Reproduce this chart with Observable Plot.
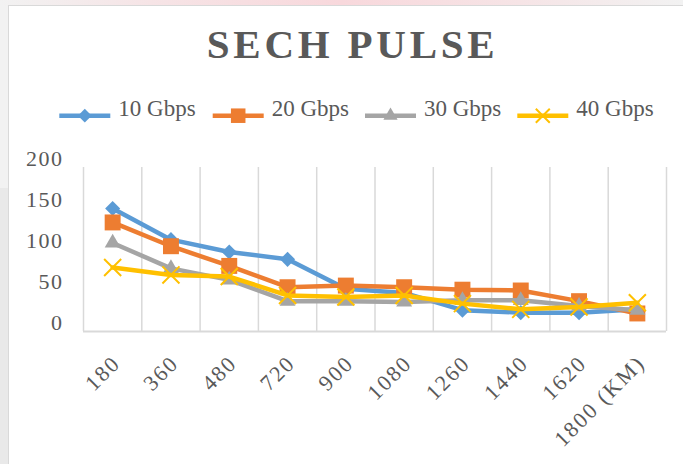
<!DOCTYPE html>
<html>
<head>
<meta charset="utf-8">
<script src="https://cdn.jsdelivr.net/npm/d3@7"></script>
<script src="https://cdn.jsdelivr.net/npm/@observablehq/plot@0.6"></script>
<style>
  html, body { margin: 0; padding: 0; background: #f2f2f2; }
  #page { position: relative; width: 683px; height: 464px; overflow: hidden; background: #f2f2f2; }
  #topglow { position: absolute; left: 0; top: 0; width: 683px; height: 6px;
    background: linear-gradient(90deg, #f2f2f2 0%, #f6e4e6 22%, #f8d8dc 50%, #f6e4e6 76%, #f2f2f2 100%); }
  #leftlow { position: absolute; left: 0; top: 188px; width: 8px; height: 276px; background: #e9e9e9; }
  #frame { position: absolute; left: 8px; top: 5px; width: 700px; height: 480px; background: #ffffff;
    border: 1px solid #d9d9d9; box-sizing: border-box; }
  #plotwrap, #overlay { position: absolute; left: 0; top: 0; }
  g[aria-label="x-axis tick label"] text { letter-spacing: 2px; }
  g[aria-label="y-axis tick label"] text { letter-spacing: 1.5px; }
</style>
</head>
<body>
<div id="page">
  <div id="topglow"></div>
  <div id="leftlow"></div>
  <div id="frame"></div>
  <div id="plotwrap"></div>
  <svg id="overlay" width="683" height="464"></svg>
</div>
<script>
// ---- data ----
const categories = ["180", "360", "480", "720", "900", "1080", "1260", "1440", "1620", "1800 (KM)"];
const seriesNames = ["10 Gbps", "20 Gbps", "30 Gbps", "40 Gbps"];
const gbps10 = [150, 112, 97, 88, 52, 47, 26, 23, 23, 27];
const gbps20 = [133, 104, 80, 54, 56, 54, 51, 50, 37, 22];
const gbps30 = [108, 77, 63, 37, 37, 36, 38, 38, 31, 26];
const gbps40 = [78, 69, 67, 44, 42, 44, 34, 27, 30, 35];
const yTicks = [0, 50, 100, 150, 200];
const titleText = "SECH PULSE";

const colors = ["#5b9bd5", "#ed7d31", "#a5a5a5", "#ffc000"];
const symbols = ["diamond2", "square", "triangle", "times"];
const radii = [6.8, 9, 5.9, 7.8];

const allSeries = [gbps10, gbps20, gbps30, gbps40];
const tables = allSeries.map(vals => categories.map((c, i) => ({i, cat: c, v: vals[i]})));
const boundaries = d3.range(categories.length + 1).map(k => k - 0.5);

const seriesMarks = [];
tables.forEach((rows, s) => {
  seriesMarks.push(Plot.line(rows, {x: "i", y: "v", stroke: colors[s], strokeWidth: 4.5,
    strokeLinejoin: "round", strokeLinecap: "round"}));
  if (symbols[s] === "times") {
    seriesMarks.push(Plot.dot(rows, {x: "i", y: "v", symbol: "times", r: radii[s],
      stroke: colors[s], strokeWidth: 2, fill: "none"}));
  } else {
    seriesMarks.push(Plot.dot(rows, {x: "i", y: "v", symbol: symbols[s], r: radii[s],
      fill: colors[s], stroke: "none"}));
  }
});

const chart = Plot.plot({
  width: 683,
  height: 464,
  marginLeft: 83,
  marginRight: 17,
  marginTop: 167,
  marginBottom: 133,
  style: {
    fontFamily: "'Liberation Serif', 'Times New Roman', serif",
    fontSize: "22px",
    color: "#595959",
    background: "transparent",
    overflow: "visible"
  },
  x: {type: "linear", domain: [-0.5, categories.length - 0.5]},
  y: {type: "linear", domain: [0, 200]},
  marks: [
    Plot.gridX(boundaries, {stroke: "#d9d9d9", strokeOpacity: 1, strokeWidth: 1.5}),
    Plot.ruleY([0], {stroke: "#d9d9d9", strokeWidth: 2.2}),
    Plot.axisY(yTicks, {tickSize: 0, tickPadding: 20, dy: -9, label: null, fill: "#595959", fontSize: 22}),
    Plot.axisX(d3.range(categories.length), {
      tickSize: 0, tickPadding: 28, tickRotate: -45, textAnchor: "end", dx: 4,
      tickFormat: i => categories[i], label: null, fill: "#595959", fontSize: 22
    }),
    ...seriesMarks
  ]
});
document.getElementById("plotwrap").appendChild(chart);

// ---- title and legend ----
const ov = d3.select("#overlay");
ov.append("text")
  .attr("x", 206.7).attr("y", 58.3)
  .attr("textLength", 288).attr("lengthAdjust", "spacing")
  .style("font-family", "'Liberation Serif', 'Times New Roman', serif")
  .style("font-weight", "bold").style("font-size", "41px")
  .style("fill", "#595959")
  .text(titleText);

const legendX = [59.3, 212.7, 365, 517.3];
const legendY = 115.7;
const legendSym = [d3.symbolDiamond2, d3.symbolSquare, d3.symbolTriangle, d3.symbolTimes];
const legendSize = [6.2, 8.2, 5.3, 6.4].map(r => Math.PI * r * r);
seriesNames.forEach((name, s) => {
  const x0 = legendX[s];
  const g = ov.append("g");
  g.append("line").attr("x1", x0).attr("x2", x0 + 51).attr("y1", legendY).attr("y2", legendY)
    .attr("stroke", colors[s]).attr("stroke-width", 4.5);
  const p = g.append("path")
    .attr("d", d3.symbol(legendSym[s], legendSize[s])())
    .attr("transform", `translate(${x0 + 25.5},${legendY})`);
  if (s === 3) p.attr("fill", "none").attr("stroke", colors[s]).attr("stroke-width", 2);
  else p.attr("fill", colors[s]);
  g.append("text").attr("x", x0 + 59).attr("y", 116)
    .style("font-family", "'Liberation Serif', 'Times New Roman', serif")
    .style("font-size", "23px").style("fill", "#595959")
    .text(name);
});
</script>
</body>
</html>
